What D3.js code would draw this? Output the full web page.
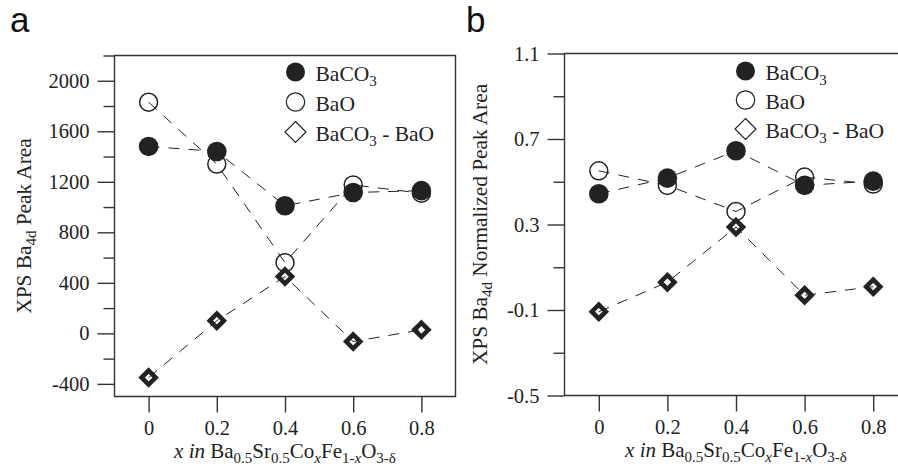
<!DOCTYPE html>
<html>
<head>
<meta charset="utf-8">
<script src="https://cdn.jsdelivr.net/npm/d3@7"></script>
<style>
  html, body { margin: 0; padding: 0; background: #fff; }
  svg { display: block; }
  svg text { font-family: "Liberation Serif", "DejaVu Serif", "Noto Serif", Times, serif; fill: #222; }
</style>
</head>
<body>
<svg id="chart" width="898" height="472"></svg>
<script>
// Composition x in Ba0.5Sr0.5CoxFe1-xO3-δ
const compositions = [0, 0.2, 0.4, 0.6, 0.8];
const xTickLabels = ["0", "0.2", "0.4", "0.6", "0.8"];

// (a) XPS Ba4d peak areas
const areaBaCO3 = [1480, 1440, 1010, 1115, 1130];
const areaBaO = [1830, 1340, 560, 1175, 1110];
const areaDiff = [-350, 100, 450, -65, 28];
const areaMajorTicks = [-400, 0, 400, 800, 1200, 1600, 2000];
const areaMinorTicks = [-200, 200, 600, 1000, 1400, 1800, 2200];

// (b) XPS Ba4d normalized peak areas
const normBaCO3 = [0.444, 0.517, 0.645, 0.483, 0.503];
const normBaO = [0.551, 0.483, 0.361, 0.522, 0.489];
const normDiff = [-0.108, 0.030, 0.288, -0.031, 0.009];
const normMajorTicks = [-0.5, -0.1, 0.3, 0.7, 1.1];
const normMajorLabels = ["-0.5", "-0.1", "0.3", "0.7", "1.1"];
const normMinorTicks = [-0.3, 0.1, 0.5, 0.9];

const seriesNames = ["BaCO", "BaO", "BaCO"];

const serif = '"Liberation Serif", "DejaVu Serif", "Noto Serif", Times, serif';
const svg = d3.select("#chart");
const ink = "#222";
const frameInk = "#333";

function panel(cfg) {
  const x = d3.scaleLinear().domain([-0.1, 0.9]).range([cfg.left, cfg.right]);
  const y = d3.scaleLinear().domain(cfg.yDomain).range([cfg.bottom, cfg.top]);
  const g = svg.append("g").attr("font-family", serif);

  // frame
  g.append("path")
    .attr("d", `M${cfg.left},${cfg.top}H${cfg.right}V${cfg.bottom}H${cfg.left}Z`)
    .attr("fill", "none").attr("stroke", frameInk).attr("stroke-width", 1.4);

  // y axis, major ticks with labels
  const yMajor = g.append("g").attr("transform", `translate(${cfg.left},0)`)
    .call(d3.axisLeft(y).tickValues(cfg.majorTicks).tickSize(17).tickPadding(8)
      .tickFormat((d, i) => cfg.majorLabels[i]));
  // y axis, minor ticks
  const yMinor = g.append("g").attr("transform", `translate(${cfg.left},0)`)
    .call(d3.axisLeft(y).tickValues(cfg.minorTicks).tickSize(11).tickFormat(""));
  // x axis
  const xAx = g.append("g").attr("transform", `translate(0,${cfg.bottom})`)
    .call(d3.axisBottom(x).tickValues(compositions).tickSize(16).tickPadding(8)
      .tickFormat((d, i) => xTickLabels[i]));

  [yMajor, yMinor, xAx].forEach(a => {
    a.attr("font-family", serif).attr("font-size", 20.5);
    a.select(".domain").remove();
    a.selectAll(".tick line").attr("stroke", frameInk).attr("stroke-width", 1.4);
    a.selectAll(".tick text").attr("fill", ink);
  });

  // dashed connecting lines
  const line = d3.line().x((d, i) => x(compositions[i])).y(d => y(d));
  cfg.series.forEach(s => {
    g.append("path").datum(s)
      .attr("d", line)
      .attr("fill", "none").attr("stroke", ink).attr("stroke-width", 1)
      .attr("stroke-dasharray", "11,9");
  });

  // markers
  const [sCO3, sO, sDiff] = cfg.series;
  g.selectAll(null).data(sO).join("circle")
    .attr("cx", (d, i) => x(compositions[i])).attr("cy", d => y(d)).attr("r", 9)
    .attr("fill", "none").attr("stroke", ink).attr("stroke-width", 1.5);
  g.selectAll(null).data(sCO3).join("circle")
    .attr("cx", (d, i) => x(compositions[i])).attr("cy", d => y(d)).attr("r", 9.8)
    .attr("fill", ink);
  const dia = 7;
  g.selectAll(null).data(sDiff).join("path")
    .attr("transform", (d, i) => `translate(${x(compositions[i])},${y(d)})`)
    .attr("d", `M0,${-dia}L${dia},0L0,${dia}L${-dia},0Z`)
    .attr("fill", "none").attr("stroke", ink).attr("stroke-width", 4.6);

  // legend
  const lg = g.append("g");
  cfg.legendRows.forEach((ry, k) => {
    const mx = cfg.legendX, tx = cfg.legendX + 20;
    if (k === 0) {
      lg.append("circle").attr("cx", mx).attr("cy", ry).attr("r", 9.5).attr("fill", ink);
    } else if (k === 1) {
      lg.append("circle").attr("cx", mx).attr("cy", ry).attr("r", 9.2)
        .attr("fill", "none").attr("stroke", ink).attr("stroke-width", 1.2);
    } else {
      const h = 10.5;
      lg.append("path").attr("transform", `translate(${mx},${ry})`)
        .attr("d", `M0,${-h}L${h},0L0,${h}L${-h},0Z`)
        .attr("fill", "none").attr("stroke", ink).attr("stroke-width", 1.2);
    }
    const t = lg.append("text").attr("x", tx).attr("y", ry + 8.5)
      .attr("font-family", serif).attr("font-size", 21.5);
    t.append("tspan").text(seriesNames[k]);
    if (k !== 1) {
      t.append("tspan").attr("dy", 5).attr("font-size", 15).text("3");
      if (k === 2) {
        t.append("tspan").attr("dy", -5).text(" - BaO");
      }
    }
  });

  // y title
  const yt = g.append("text")
    .attr("transform", `translate(${cfg.yTitleX},${(cfg.top + cfg.bottom) / 2}) rotate(-90)`)
    .attr("text-anchor", "middle").attr("font-family", serif).attr("font-size", 21.3);
  yt.append("tspan").text("XPS Ba");
  yt.append("tspan").attr("dy", 5).attr("font-size", 15).text("4d");
  yt.append("tspan").attr("dy", -5).text(cfg.yTitleRest);

  // x title
  const xt = g.append("text")
    .attr("x", (cfg.left + cfg.right) / 2).attr("y", cfg.bottom + 61)
    .attr("text-anchor", "middle").attr("font-family", serif).attr("font-size", 21);
  const sub = (txt, italic) => xt.append("tspan").attr("dy", 5).attr("font-size", 15)
    .attr("font-style", italic ? "italic" : "normal").text(txt);
  const reg = (txt) => xt.append("tspan").attr("dy", -5).attr("font-size", 21).text(txt);
  xt.append("tspan").attr("font-style", "italic").text("x in ");
  xt.append("tspan").text("Ba");
  sub("0.5");
  reg("Sr");
  sub("0.5");
  reg("Co");
  sub("x", true);
  reg("Fe");
  sub("1-");
  xt.append("tspan").attr("font-size", 15).attr("font-style", "italic").text("x");
  reg("O");
  sub("3-δ");

  // panel letter
  svg.append("text").attr("x", cfg.letterX).attr("y", 32)
    .attr("font-family", '"Liberation Sans", Arial, sans-serif').attr("font-size", 35)
    .style("font-family", '"Liberation Sans", Arial, sans-serif')
    .style("fill", "#111").text(cfg.letter);
}

panel({
  letter: "a", letterX: 10,
  left: 114.5, right: 455.5, top: 55.5, bottom: 396.5,
  yDomain: [-500, 2200],
  majorTicks: areaMajorTicks, majorLabels: areaMajorTicks.map(String),
  minorTicks: areaMinorTicks,
  series: [areaBaCO3, areaBaO, areaDiff],
  legendX: 295.5, legendRows: [72, 102, 132],
  yTitleX: 31, yTitleRest: " Peak Area"
});

panel({
  letter: "b", letterX: 466,
  left: 564.5, right: 907.5, top: 53.5, bottom: 395.5,
  yDomain: [-0.5, 1.1],
  majorTicks: normMajorTicks, majorLabels: normMajorLabels,
  minorTicks: normMinorTicks,
  series: [normBaCO3, normBaO, normDiff],
  legendX: 745.5, legendRows: [71, 100, 129],
  yTitleX: 487, yTitleRest: " Normalized Peak Area"
});
</script>
</body>
</html>
